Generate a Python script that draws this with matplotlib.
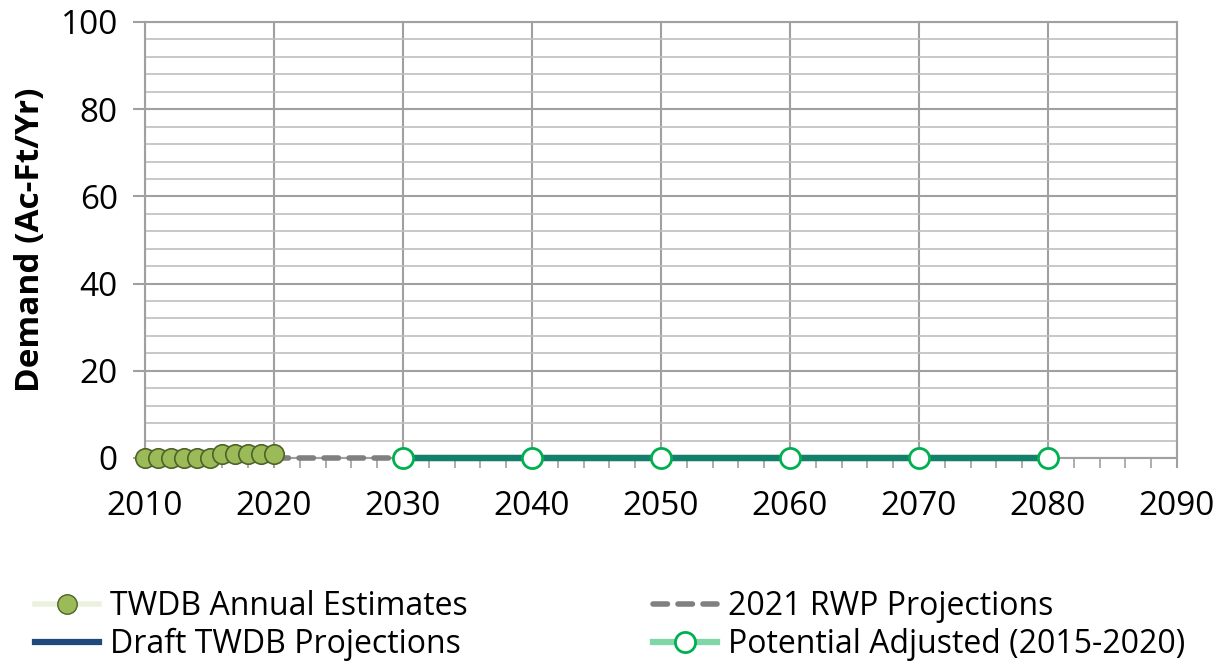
import matplotlib.pyplot as plt
from matplotlib.lines import Line2D
from matplotlib.ticker import MultipleLocator

plt.rcParams['font.family'] = ['Open Sans', 'DejaVu Sans']

# data
est_years = [2010, 2011, 2012, 2013, 2014, 2015, 2016, 2017, 2018, 2019, 2020]
est_values = [0, 0, 0, 0, 0, 0, 1, 1, 1, 1, 1]
rwp_years = [2020, 2030]
rwp_values = [0, 0]
draft_years = [2030, 2040, 2050, 2060, 2070, 2080]
draft_values = [0, 0, 0, 0, 0, 0]
adj_years = [2030, 2040, 2050, 2060, 2070, 2080]
adj_values = [0, 0, 0, 0, 0, 0]

fig = plt.figure(figsize=(12.28, 6.7), dpi=100)
ax = fig.add_axes([145 / 1228, 1 - 458 / 670, 1032 / 1228, 436 / 670])

dash = (0, (2.6, 1.9))
ax.plot(est_years, est_values, color='#EBF1DE', lw=3, marker='o', ms=14,
        mfc='#9BBB59', mec='#4F6228', mew=1.2, zorder=5, clip_on=False)
ax.plot(rwp_years, rwp_values, color='#808080', lw=4, ls=dash,
        dash_capstyle='round', zorder=4, clip_on=False)
ax.plot(draft_years, draft_values, color='#1F497D', lw=4.5, zorder=3, clip_on=False)
ax.plot(adj_years, adj_values, color='#13806A', lw=4.5, marker='o', ms=14.5,
        mfc='white', mec='#00B050', mew=2, zorder=6, clip_on=False)

ax.set_xlim(2010, 2090)
ax.set_ylim(0, 100)
ax.xaxis.set_major_locator(MultipleLocator(10))
ax.xaxis.set_minor_locator(MultipleLocator(2))
ax.yaxis.set_major_locator(MultipleLocator(20))
ax.yaxis.set_minor_locator(MultipleLocator(4))
ax.grid(True, which='major', color='#A0A0A0', lw=1.5)
ax.grid(True, which='minor', axis='y', color='#BFBFBF', lw=1.2)
ax.set_axisbelow(True)
for s in ax.spines.values():
    s.set_color('#A0A0A0')
    s.set_linewidth(1.5)
ax.tick_params(axis='x', which='major', direction='out', length=7, color='#A0A0A0',
               width=1.5, labelsize=24, pad=16)
ax.tick_params(axis='x', which='minor', direction='out', length=7, color='#A0A0A0', width=1.2)
ax.tick_params(axis='y', which='major', direction='out', length=8.5, color='#A0A0A0',
               width=1.5, labelsize=24, pad=11)
ax.tick_params(axis='y', which='minor', length=0)
ax.set_ylabel('Demand (Ac-Ft/Yr)', fontsize=24, fontweight='bold', labelpad=10)

handles = [
    Line2D([], [], color='#EBF1DE', lw=4, marker='o', ms=14, mfc='#9BBB59', mec='#4F6228'),
    Line2D([], [], color='#1F497D', lw=4.5),
    Line2D([], [], color='#808080', lw=4, ls=dash, dash_capstyle='round'),
    Line2D([], [], color='#7FD6A6', lw=4.5, marker='o', ms=14.5, mfc='white', mec='#00B050', mew=2),
]
labels = ['TWDB Annual Estimates', 'Draft TWDB Projections',
          '2021 RWP Projections', 'Potential Adjusted (2015-2020)']
fig.legend(handles, labels, loc='lower left', bbox_to_anchor=(0.005, -0.03), ncol=2,
           frameon=False, fontsize=23, handlelength=2.0, handletextpad=0.35,
           columnspacing=5.8, labelspacing=0.16)

fig.savefig('out.png', dpi=100)
